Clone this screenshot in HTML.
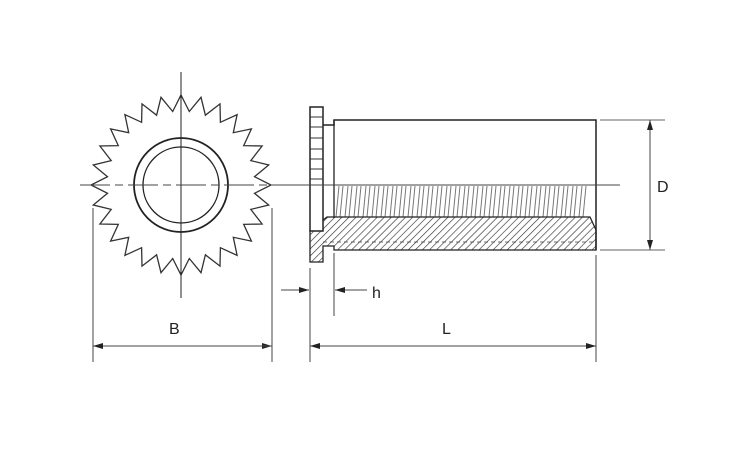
<!DOCTYPE html>
<html><head><style>
body{margin:0;background:#fff;}
svg{display:block;}
text{font-family:"Liberation Sans",sans-serif;font-size:16px;fill:#222;}
</style></head><body>
<svg width="750" height="450" viewBox="0 0 750 450" xmlns="http://www.w3.org/2000/svg">
<defs>
<pattern id="h" width="5" height="5" patternUnits="userSpaceOnUse" patternTransform="rotate(45)">
<rect width="5" height="5" fill="#fff"/><line x1="0" y1="0" x2="0" y2="5" stroke="#333" stroke-width="1.3"/>
</pattern>
<marker id="a" markerWidth="10" markerHeight="6" refX="10" refY="3" orient="auto" markerUnits="userSpaceOnUse">
<path d="M0,0 L10,3 L0,6 z" fill="#222"/></marker>
</defs>
<g id="gear" fill="none" stroke="#333" stroke-width="1.3"></g>
<circle cx="181" cy="185" r="47" fill="none" stroke="#222" stroke-width="1.8"/>
<circle cx="181" cy="185" r="38" fill="none" stroke="#222" stroke-width="1.3"/>
<line x1="181" y1="72" x2="181" y2="298" stroke="#222" stroke-width="1"/>
<line x1="80" y1="185" x2="285" y2="185" stroke="#444" stroke-width="1" stroke-dasharray="30,5,8,5"/>
<line x1="93" y1="208" x2="93" y2="362" stroke="#444" stroke-width="1"/>
<line x1="272" y1="208" x2="272" y2="362" stroke="#444" stroke-width="1"/>
<line x1="93" y1="346" x2="272" y2="346" stroke="#444" stroke-width="1" marker-end="url(#a)"/>
<line x1="272" y1="346" x2="93" y2="346" stroke="#444" stroke-width="1" marker-end="url(#a)"/>
<text x="169" y="334">B</text>

<g id="thr" stroke="#777" stroke-width="1"></g>
<polygon points="310,230 327,217 590,217 596,230 596,250 334,250 334,246 323,246 323,262 310,262" fill="url(#h)" stroke="#222" stroke-width="1.3"/>
<line x1="323" y1="242" x2="596" y2="242" stroke="#444" stroke-width="0.8" stroke-dasharray="4,3"/>
<rect x="310" y="107" width="13" height="124" fill="#fff" stroke="#222" stroke-width="1.5"/>
<g stroke="#333" stroke-width="1">
<line x1="310" y1="117" x2="323" y2="117"/><line x1="310" y1="127" x2="323" y2="127"/><line x1="310" y1="138" x2="323" y2="138"/><line x1="310" y1="149" x2="323" y2="149"/><line x1="310" y1="159" x2="323" y2="159"/><line x1="310" y1="169" x2="323" y2="169"/><line x1="310" y1="179" x2="323" y2="179"/>
</g>
<polyline points="323,125 334,125 334,120 596,120 596,250" fill="none" stroke="#222" stroke-width="1.5"/>
<line x1="334" y1="120" x2="334" y2="218" stroke="#222" stroke-width="1.3"/>
<line x1="285" y1="185" x2="620" y2="185" stroke="#444" stroke-width="1"/>
<line x1="600" y1="120" x2="665" y2="120" stroke="#666" stroke-width="1"/>
<line x1="600" y1="250" x2="665" y2="250" stroke="#666" stroke-width="1"/>
<line x1="650" y1="185" x2="650" y2="120" stroke="#444" stroke-width="1" marker-end="url(#a)"/>
<line x1="650" y1="185" x2="650" y2="250" stroke="#444" stroke-width="1" marker-end="url(#a)"/>
<text x="657" y="192">D</text>
<line x1="310" y1="268" x2="310" y2="362" stroke="#444" stroke-width="1"/>
<line x1="334" y1="253" x2="334" y2="316" stroke="#444" stroke-width="1"/>
<line x1="596" y1="255" x2="596" y2="362" stroke="#444" stroke-width="1"/>
<line x1="281" y1="290" x2="309" y2="290" stroke="#444" stroke-width="1" marker-end="url(#a)"/>
<line x1="367" y1="290" x2="335" y2="290" stroke="#444" stroke-width="1" marker-end="url(#a)"/>
<text x="372" y="298">h</text>
<line x1="453" y1="346" x2="310" y2="346" stroke="#444" stroke-width="1" marker-end="url(#a)"/>
<line x1="453" y1="346" x2="596" y2="346" stroke="#444" stroke-width="1" marker-end="url(#a)"/>
<text x="442" y="334">L</text>
</svg>
<script>
(function(){
var n=28,cx=181,cy=185,R=90,r=74,p=[];
for(var i=0;i<n*2;i++){var a=Math.PI*i/n - Math.PI/2;var rr=i%2?r:R;p.push((cx+rr*Math.cos(a)).toFixed(1)+","+(cy+rr*Math.sin(a)).toFixed(1));}
var g=document.getElementById("gear");
var pg=document.createElementNS("http://www.w3.org/2000/svg","polygon");pg.setAttribute("points",p.join(" "));g.appendChild(pg);
var t=document.getElementById("thr");
for(var x=336;x<588;x+=9){var l=document.createElementNS("http://www.w3.org/2000/svg","line");
l.setAttribute("x1",x+3);l.setAttribute("y1",186);l.setAttribute("x2",x);l.setAttribute("y2",217);t.appendChild(l);
var l2=document.createElementNS("http://www.w3.org/2000/svg","line");
l2.setAttribute("x1",x+7);l2.setAttribute("y1",186);l2.setAttribute("x2",x+4);l2.setAttribute("y2",217);t.appendChild(l2);}
})();
</script>
</body></html>
